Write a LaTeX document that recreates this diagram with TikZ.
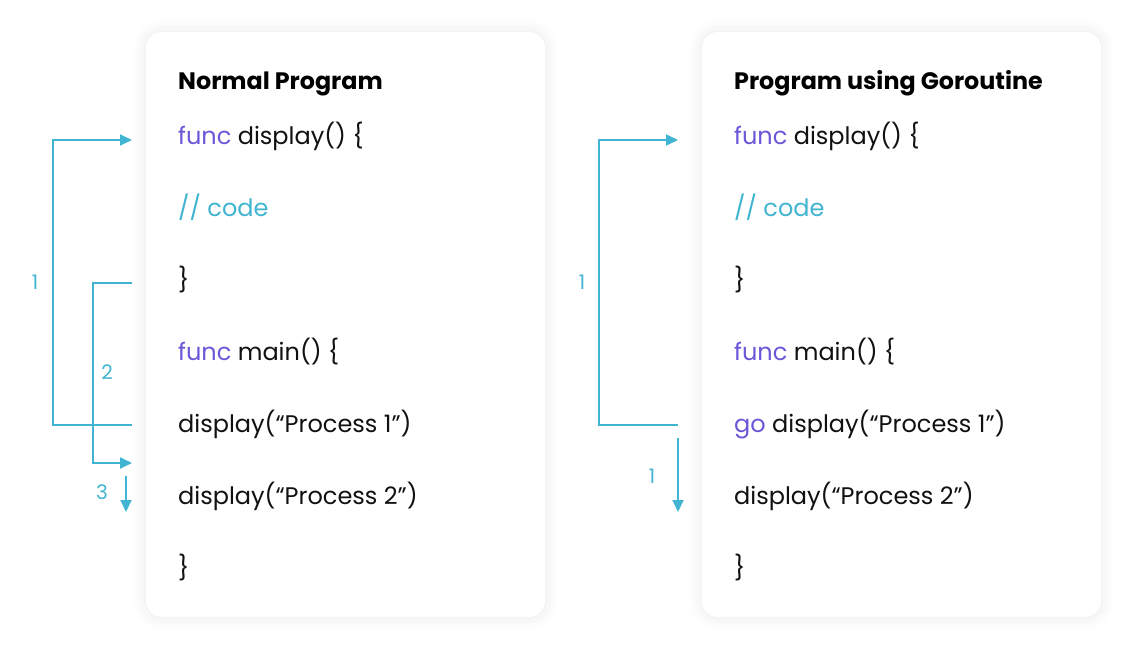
\documentclass[tikz,border=0pt]{standalone}
\usepackage{fontspec}
\setmainfont{Poppins}
\usetikzlibrary{arrows.meta,shadows.blur}
\definecolor{cyanl}{HTML}{40B4D0}
\definecolor{purp}{HTML}{6B56D8}
\definecolor{txt}{HTML}{111111}
\tikzset{
  card/.style={fill=white, rounded corners=16pt, draw=none,
    blur shadow={shadow xshift=0pt, shadow yshift=0pt, shadow blur radius=14pt, shadow opacity=9}},
  code/.style={anchor=base west, inner sep=0pt, font=\fontsize{24}{28}\selectfont, text=txt},
  title/.style={anchor=base west, inner sep=0pt, font=\fontsize{23.8}{28}\selectfont\bfseries, text=black},
  num/.style={inner sep=0pt, font=\fontsize{20}{24}\selectfont, text=cyanl},
  flow/.style={draw=cyanl, line width=2pt, -{Triangle[length=12pt,width=11pt]}},
}
\begin{document}
\begin{tikzpicture}[x=1pt,y=-1pt]
\useasboundingbox (0,0) rectangle (1134,650);
% cards
\path[card] (146,32) rectangle (545,617);
\path[card] (702,32) rectangle (1101,617);
% left card text
\node[title] (lt) at (178,90) {Normal Program};
\node[code] (l1) at (178,144) {\textcolor{purp}{func} display() \{};
\node[code] (l2) at (178,216) {\textcolor{cyanl}{// code}};
\node[code] (l3) at (178,288) {\}};
\node[code] (l4) at (178,360) {\textcolor{purp}{func} main() \{};
\node[code] (l5) at (178,432) {display(“Process 1”)};
\node[code] (l6) at (178,504) {display(“Process 2”)};
\node[code] (l7) at (178,576) {\}};
% right card text
\node[title] (rt) at (734,90) {Program using Goroutine};
\node[code] (r1) at (734,144) {\textcolor{purp}{func} display() \{};
\node[code] (r2) at (734,216) {\textcolor{cyanl}{// code}};
\node[code] (r3) at (734,288) {\}};
\node[code] (r4) at (734,360) {\textcolor{purp}{func} main() \{};
\node[code] (r5) at (734,432) {\textcolor{purp}{go} display(“Process 1”)};
\node[code] (r6) at (734,504) {display(“Process 2”)};
\node[code] (r7) at (734,576) {\}};
% arrow endpoints left
\coordinate (a1s) at (132,425);
\coordinate (a1e) at (132,140);
\coordinate (a2s) at (132,283);
\coordinate (a2e) at (132,463);
\coordinate (a3s) at (126,476);
\coordinate (a3e) at (126,512);
\draw[flow] (a1s) -- (53,425) -- (53,140) -- (a1e);
\draw[flow] (a2s) -- (93,283) -- (93,463) -- (a2e);
\draw[flow] (a3s) -- (a3e);
\node[num] (n1) at (35,282) {1};
\node[num] (n2) at (107,372) {2};
\node[num] (n3) at (102,492) {3};
% arrow endpoints right
\coordinate (b1s) at (678,425);
\coordinate (b1e) at (678,140);
\coordinate (b2s) at (678,438);
\coordinate (b2e) at (678,512);
\draw[flow] (b1s) -- (599,425) -- (599,140) -- (b1e);
\draw[flow] (b2s) -- (b2e);
\node[num] (m1) at (582,282) {1};
\node[num] (m2) at (652,476) {1};
\end{tikzpicture}
\end{document}
